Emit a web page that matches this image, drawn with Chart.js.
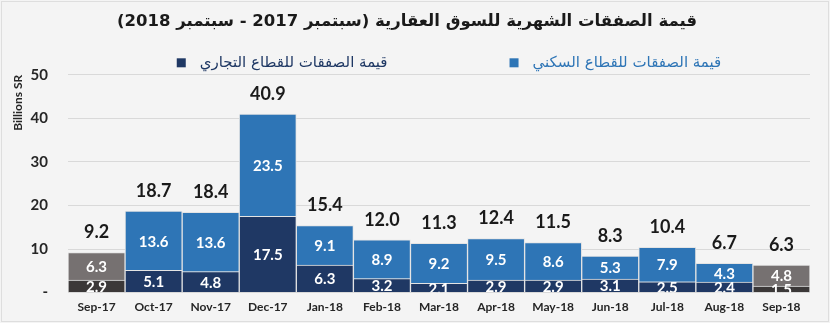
<!DOCTYPE html>
<html>
<head>
<meta charset="utf-8">
<script src="https://cdn.jsdelivr.net/npm/chart.js@4.4.1/dist/chart.umd.min.js"></script>
<style>
html,body{margin:0;padding:0;background:#f4f4f4;}
#wrap{position:relative;width:830px;height:323px;}
#frame{position:absolute;left:1px;top:1px;width:826px;height:319px;border:1px solid #dedede;pointer-events:none;}
</style>
</head>
<body>
<div id="wrap"><canvas id="c" dir="rtl"></canvas><div id="frame"></div></div>
<script>
// ---- data ----
const categories = ['Sep-17','Oct-17','Nov-17','Dec-17','Jan-18','Feb-18','Mar-18','Apr-18','May-18','Jun-18','Jul-18','Aug-18','Sep-18'];
const commercial = [2.9, 5.1, 4.8, 17.5, 6.3, 3.2, 2.1, 2.9, 2.9, 3.1, 2.5, 2.4, 1.5];
const residential = [6.3, 13.6, 13.6, 23.5, 9.1, 8.9, 9.2, 9.5, 8.6, 5.3, 7.9, 4.3, 4.8];
const totals = [9.2, 18.7, 18.4, 40.9, 15.4, 12.0, 11.3, 12.4, 11.5, 8.3, 10.4, 6.7, 6.3];
const yTicks = [0, 10, 20, 30, 40, 50];
const titleText = 'قيمة الصفقات الشهرية للسوق العقارية (سبتمبر 2017 - سبتمبر 2018)';
const commercialLabel = 'قيمة الصفقات للقطاع التجاري';
const residentialLabel = 'قيمة الصفقات للقطاع السكني';
const yAxisTitle = 'Billions SR';

// ---- styles ----
const BLUE = '#2E75B6', NAVY = '#1F3864', GRAY_TOP = '#767171', GRAY_BOT = '#3B3838';
const NUM_FONT = 'Lato, "DejaVu Sans", sans-serif';
const AR_FONT = '"DejaVu Sans", sans-serif';
const isEdge = i => i === 0 || i === categories.length - 1;

const valueLabels = {
  id: 'valueLabels',
  afterDatasetsDraw(chart) {
    const ctx = chart.ctx, a = chart.chartArea;
    ctx.save();
    ctx.beginPath();
    ctx.rect(a.left, a.top - 60, a.right - a.left, a.bottom - a.top + 60);
    ctx.clip();
    ctx.textAlign = 'center';
    ctx.textBaseline = 'middle';
    ctx.font = 'bold 15px ' + NUM_FONT;
    ctx.fillStyle = '#ffffff';
    chart.data.datasets.forEach((ds, di) => {
      chart.getDatasetMeta(di).data.forEach((bar, i) => {
        ctx.fillText(ds.data[i].toFixed(1), bar.x, (bar.y + bar.base) / 2 + 1);
      });
    });
    ctx.fillStyle = '#1a1a1a';
    ctx.font = 'bold 18px ' + NUM_FONT;
    chart.getDatasetMeta(1).data.forEach((bar, i) => {
      ctx.fillText(totals[i].toFixed(1), bar.x, bar.y - 20);
    });
    ctx.restore();
  }
};

const rtlLegend = {
  id: 'rtlLegend',
  afterDraw(chart) {
    const ctx = chart.ctx, a = chart.chartArea;
    const box = 9, boxGap = 14, itemGap = 122;
    ctx.save();
    ctx.font = '15px ' + AR_FONT;
    ctx.direction = 'rtl';
    ctx.textBaseline = 'middle';
    ctx.textAlign = 'left';
    const items = chart.data.datasets.map(ds => ({ text: ds.label, color: ds.legendColor }));
    const widths = items.map(it => box + boxGap + ctx.measureText(it.text).width);
    const total = widths.reduce((s, w) => s + w, 0) + itemGap * (items.length - 1);
    let x = (a.left + a.right) / 2 + 10 - total / 2;
    const y = a.top - 12;
    items.forEach((it, k) => {
      ctx.fillStyle = it.color;
      ctx.fillRect(x, y - box / 2, box, box);
      ctx.fillText(it.text, x + box + boxGap, y);
      x += widths[k] + itemGap;
    });
    ctx.restore();
  }
};

new Chart(document.getElementById('c'), {
  type: 'bar',
  data: {
    labels: categories,
    datasets: [
      {
        label: commercialLabel,
        data: commercial,
        legendColor: NAVY,
        backgroundColor: c => isEdge(c.dataIndex) ? GRAY_BOT : NAVY,
        borderColor: '#e4e4e4',
        borderWidth: 1
      },
      {
        label: residentialLabel,
        data: residential,
        legendColor: BLUE,
        backgroundColor: c => isEdge(c.dataIndex) ? GRAY_TOP : BLUE,
        borderColor: '#e4e4e4',
        borderWidth: 1
      }
    ]
  },
  options: {
    responsive: true,
    maintainAspectRatio: false,
    animation: false,
    devicePixelRatio: 1,
    layout: { padding: { left: 4, right: 20, top: 0, bottom: 2 } },
    datasets: { bar: { barPercentage: 1, categoryPercentage: 1 } },
    plugins: {
      legend: { display: false },
      tooltip: { enabled: false },
      title: {
        display: true,
        text: titleText,
        color: '#1a1a1a',
        font: { family: AR_FONT, size: 16.5, weight: 'bold' },
        padding: { top: 12, bottom: 43 }
      }
    },
    scales: {
      x: {
        stacked: true,
        grid: { display: false, drawTicks: false },
        border: { display: false },
        ticks: { color: '#262626', font: { family: NUM_FONT, size: 12, weight: 'bold' }, padding: 7, maxRotation: 0 }
      },
      y: {
        stacked: true,
        min: yTicks[0],
        max: yTicks[yTicks.length - 1],
        afterFit: s => { s.width = 64; },
        afterBuildTicks: s => { s.ticks = yTicks.map(v => ({ value: v })); },
        grid: { color: '#d9d9d9', drawTicks: false, lineWidth: 1 },
        border: { display: false },
        ticks: {
          color: '#262626',
          padding: 20,
          font: { family: NUM_FONT, size: 15, weight: 'bold' },
          callback: v => v === 0 ? '-' : String(v)
        },
        title: {
          display: true,
          text: yAxisTitle,
          align: 'end',
          color: '#262626',
          font: { family: NUM_FONT, size: 12, weight: 'bold' },
          padding: { top: 7, bottom: 0 }
        }
      }
    }
  },
  plugins: [valueLabels, rtlLegend]
});
</script>
</body>
</html>
